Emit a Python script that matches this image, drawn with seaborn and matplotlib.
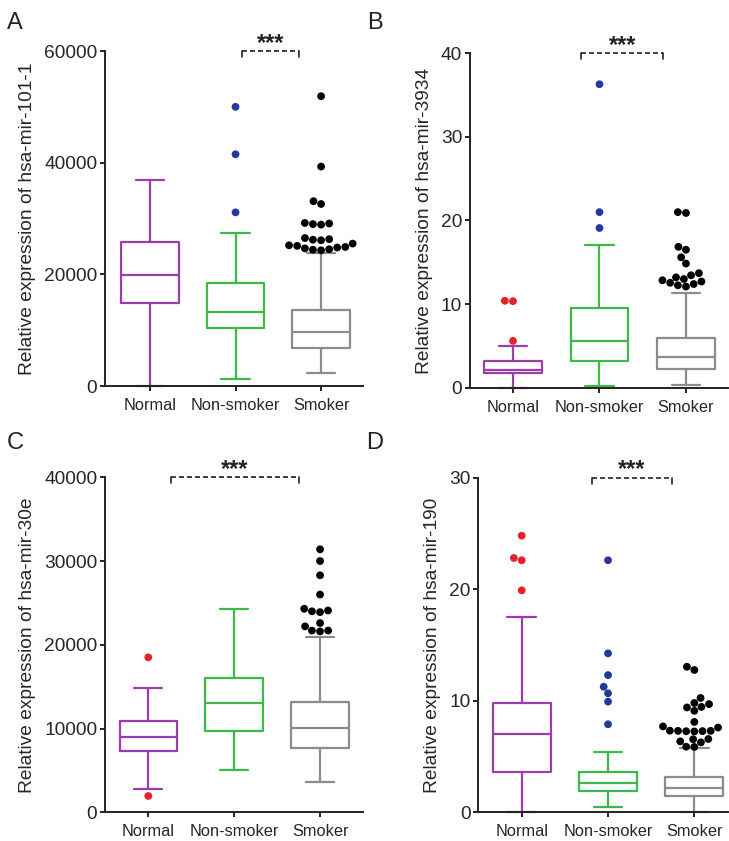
import numpy as np
import pandas as pd
import matplotlib
matplotlib.use("Agg")
import matplotlib.pyplot as plt
import seaborn as sns

sns.set_style("ticks")
plt.rcParams['font.family'] = ['Liberation Sans', 'DejaVu Sans']

categories = ["Normal", "Non-smoker", "Smoker"]
box_colors = ["#9B3DAA", "#3DB84A", "#8C8C8C"]
flier_colors = ["#E8202A", "#23399A", "#000000"]

# ---------------- Panel A: hsa-mir-101-1 ----------------
a_whislo = [0, 1250, 2270]
a_q1 = [14800, 10330, 6750]
a_med = [19900, 13200, 9730]
a_q3 = [25850, 18500, 13600]
a_whishi = [36900, 27460, 23760]
a_out_normal = []
a_out_nonsmoker = [50000, 41500, 31100]
a_out_smoker = [51900, 39300, 33100, 32600, 29100, 28900, 29000, 29200,
                26300, 26100, 26200, 26500, 25500, 25200, 24900, 24650,
                24400, 24300, 24500, 24800, 25100]
a_ticks = [0, 20000, 40000, 60000]

# ---------------- Panel B: hsa-mir-3934 ----------------
b_whislo = [0.0, 0.2, 0.32]
b_q1 = [1.72, 3.23, 2.24]
b_med = [2.15, 5.58, 3.7]
b_q3 = [3.19, 9.5, 5.98]
b_whishi = [5.02, 17.07, 11.36]
b_out_normal = [10.4, 10.35, 5.6]
b_out_nonsmoker = [36.3, 21.0, 19.1]
b_out_smoker = [21.0, 20.9, 16.85, 16.5, 15.6, 14.85, 13.7, 13.45, 13.2,
                13.0, 12.85, 12.7, 12.55, 12.4, 12.25, 12.1]
b_ticks = [0, 10, 20, 30, 40]

# ---------------- Panel C: hsa-mir-30e ----------------
c_whislo = [2830, 5055, 3580]
c_q1 = [7360, 9750, 7720]
c_med = [9030, 13015, 10030]
c_q3 = [10900, 16000, 13210]
c_whishi = [14800, 24280, 20900]
c_out_normal = [18500, 1950]
c_out_nonsmoker = []
c_out_smoker = [31400, 30000, 28300, 26000, 24300, 24000, 23900, 24100,
                22600, 21700, 21600, 21700, 22200]
c_ticks = [0, 10000, 20000, 30000, 40000]

# ---------------- Panel D: hsa-mir-190 ----------------
d_whislo = [0.0, 0.51, 0.0]
d_q1 = [3.65, 1.91, 1.49]
d_med = [7.02, 2.66, 2.21]
d_q3 = [9.83, 3.65, 3.2]
d_whishi = [17.54, 5.38, 5.74]
d_out_normal = [24.8, 22.8, 22.6, 19.9]
d_out_nonsmoker = [22.6, 14.25, 12.3, 11.26, 10.67, 9.92, 7.89]
d_out_smoker = [13.05, 12.76, 10.25, 9.8, 9.4, 9.1, 9.45, 9.7, 8.1, 7.6,
                7.3, 7.28, 7.25, 7.27, 7.3, 7.32, 7.7, 6.57, 6.36, 5.86,
                5.88, 6.27, 6.55]
d_ticks = [0, 10, 20, 30]

panels = [
    dict(letter="A", label="Relative expression of hsa-mir-101-1",
         lo=a_whislo, q1=a_q1, med=a_med, q3=a_q3, hi=a_whishi,
         out=[a_out_normal, a_out_nonsmoker, a_out_smoker], ticks=a_ticks,
         rect=[105/729, (841-386)/841, 258/729, 335/841],
         xlim=(-0.526, 2.49), br=(1.08, 1.745)),
    dict(letter="B", label="Relative expression of hsa-mir-3934",
         lo=b_whislo, q1=b_q1, med=b_med, q3=b_q3, hi=b_whishi,
         out=[b_out_normal, b_out_nonsmoker, b_out_smoker], ticks=b_ticks,
         rect=[470/729, (841-387.7)/841, 258/729, 334.4/841],
         xlim=(-0.497, 2.486), br=(0.79, 1.735)),
    dict(letter="C", label="Relative expression of hsa-mir-30e",
         lo=c_whislo, q1=c_q1, med=c_med, q3=c_q3, hi=c_whishi,
         out=[c_out_normal, c_out_nonsmoker, c_out_smoker], ticks=c_ticks,
         rect=[105/729, (841-812.3)/841, 258/729, 335/841],
         xlim=(-0.504, 2.5), br=(0.26, 1.75)),
    dict(letter="D", label="Relative expression of hsa-mir-190",
         lo=d_whislo, q1=d_q1, med=d_med, q3=d_q3, hi=d_whishi,
         out=[d_out_normal, d_out_nonsmoker, d_out_smoker], ticks=d_ticks,
         rect=[478.3/729, (841-812.3)/841, 249.7/729, 334.6/841],
         xlim=(-0.503, 2.39), br=(0.81, 1.745)),
]

letter_pos = {"A": (15, 23), "B": (375, 23), "C": (15, 443), "D": (375, 443)}

fig = plt.figure(figsize=(7.29, 8.41), dpi=100)

for p in panels:
    ax = fig.add_axes(p["rect"])
    stats = []
    for i in range(3):
        stats.append(dict(whislo=p["lo"][i], q1=p["q1"][i], med=p["med"][i],
                          q3=p["q3"][i], whishi=p["hi"][i], fliers=[],
                          label=categories[i]))
    res = ax.bxp(stats, positions=[0, 1, 2], widths=0.67, capwidths=0.33,
                 showfliers=False, patch_artist=False,
                 boxprops=dict(linewidth=1.6),
                 whiskerprops=dict(linewidth=1.6),
                 capprops=dict(linewidth=1.6),
                 medianprops=dict(linewidth=1.6))
    for i, c in enumerate(box_colors):
        res["boxes"][i].set_color(c)
        res["medians"][i].set_color(c)
        for art in res["whiskers"][2*i:2*i+2] + res["caps"][2*i:2*i+2]:
            art.set_color(c)
    for art in sum([res[k] for k in ("boxes", "medians", "whiskers", "caps")], []):
        art.set_clip_on(False)
        art.set_zorder(2)

    rows = []
    for i, vals in enumerate(p["out"]):
        for v in vals:
            rows.append((categories[i], v))
    df = pd.DataFrame(rows, columns=["group", "value"])
    sns.swarmplot(data=df, x="group", y="value", hue="group",
                  order=categories, hue_order=categories,
                  palette=dict(zip(categories, flier_colors)),
                  size=5.6, ax=ax, legend=False, zorder=3, warn_thresh=1.0,
                  linewidth=0)

    top = p["ticks"][-1]
    ax.set_ylim(0, top)
    ax.set_xlim(*p["xlim"])
    ax.set_yticks(p["ticks"])
    ax.set_yticklabels([str(t) for t in p["ticks"]], fontsize=13.8)
    ax.set_xticks([0, 1, 2])
    ax.set_xticklabels(categories, fontsize=11.8)
    ax.set_xlabel("")
    ax.set_ylabel(p["label"], fontsize=13.8, labelpad=6)
    ax.tick_params(axis="y", length=3.6, width=1.4, pad=2, color="#222222")
    ax.tick_params(axis="x", length=3.6, width=1.4, pad=5, color="#222222")
    for s in ("top", "right"):
        ax.spines[s].set_visible(False)
    for s in ("left", "bottom"):
        ax.spines[s].set_linewidth(1.4)
        ax.spines[s].set_color("#222222")

    # significance bracket
    x1, x2 = p["br"]
    d = top * 0.018
    ax.plot([x1, x2], [top, top], color="#222222", lw=1.2,
            ls=(0, (3, 1.8)), clip_on=False, zorder=4)
    ax.plot([x1, x1], [top, top - d], color="#222222", lw=1.2, clip_on=False)
    ax.plot([x2, x2], [top, top - d], color="#222222", lw=1.2, clip_on=False)
    ax.text((x1 + x2) / 2, top + top * 0.004, "***", ha="center", va="baseline",
            fontsize=17, fontweight="bold", color="#222222")

    lx, ly = letter_pos[p["letter"]]
    fig.text(lx / 729, 1 - ly / 841, p["letter"], ha="center", va="center",
             fontsize=17, color="#222222")

fig.savefig("out.png", dpi=100)
